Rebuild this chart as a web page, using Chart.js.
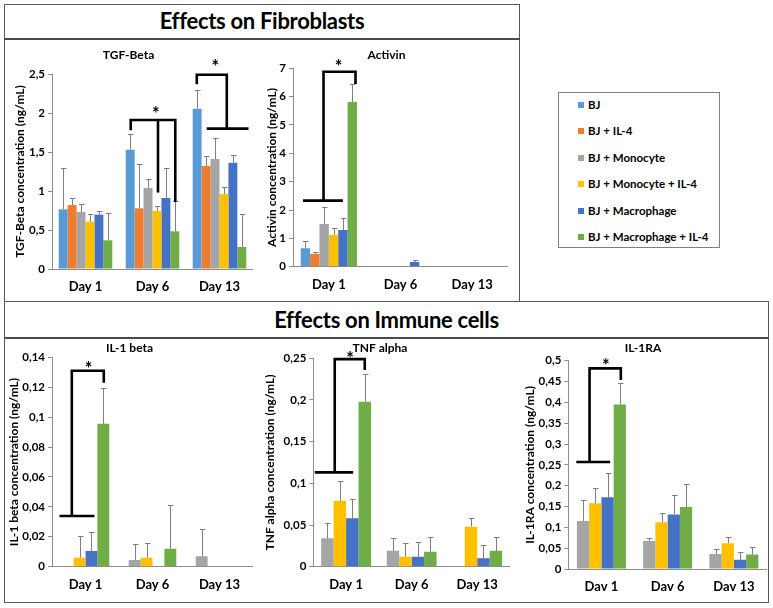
<!DOCTYPE html>
<html><head><meta charset="utf-8">
<script src="https://cdn.jsdelivr.net/npm/chart.js@4"></script>
<style>
html,body{margin:0;padding:0;background:#fff;}
body{width:773px;height:608px;position:relative;overflow:hidden;font-family:Lato,'Open Sans',sans-serif;}
.box{position:absolute;border:1px solid #595959;box-sizing:border-box;}
.rule{position:absolute;height:2px;background:#4a4a4a;}
.ptitle{position:absolute;text-align:center;font-weight:700;font-size:22px;color:#000;letter-spacing:-0.3px;}
canvas{position:absolute;}
#legend{position:absolute;left:558px;top:92px;width:162px;height:156px;border:1px solid #7f7f7f;box-sizing:border-box;background:#fff;}
.li{position:absolute;left:19px;height:14px;line-height:14px;font-weight:700;font-size:11.5px;white-space:nowrap;color:#000;}
.sw{display:inline-block;width:6px;height:6px;margin-right:4px;vertical-align:1px;}
</style></head><body>
<div class="box" style="left:4px;top:4px;width:516px;height:298px;"></div>
<div class="rule" style="left:4px;top:38px;width:516px;"></div>
<div class="box" style="left:4px;top:301px;width:765px;height:302px;"></div>
<div class="rule" style="left:4px;top:337px;width:765px;"></div>
<div class="ptitle" style="left:4px;top:4px;width:516px;height:34px;line-height:34px;">Effects on Fibroblasts</div>
<div class="ptitle" style="left:4px;top:302px;width:765px;height:35px;line-height:35px;">Effects on Immune cells</div>
<div id="legend"></div>
<script>
// ---- categories & series ----
const days = ['Day 1', 'Day 6', 'Day 13'];
const daysRA = ['Dav 1', 'Dav 6', 'Dav 13'];
const groupNames = ['BJ', 'BJ + IL-4', 'BJ + Monocyte', 'BJ + Monocyte + IL-4', 'BJ + Macrophage', 'BJ + Macrophage + IL-4'];
const groupColors = ['#5B9BD5', '#ED7D31', '#A5A5A5', '#FFC000', '#4472C4', '#70AD47'];

// ---- TGF-Beta (ng/mL): mean and SD per group ----
const tgf_BJ        = [0.765, 1.53, 2.056];  const tgf_BJ_sd        = [0.535, 0.196, 0.244];
const tgf_BJ_IL4    = [0.82, 0.778, 1.32];   const tgf_BJ_IL4_sd    = [0.086, 0.572, 0.13];
const tgf_Mono      = [0.73, 1.04, 1.41];    const tgf_Mono_sd      = [0.10, 0.114, 0.265];
const tgf_Mono_IL4  = [0.607, 0.744, 0.96];  const tgf_Mono_IL4_sd  = [0.093, 0.064, 0.087];
const tgf_Mac       = [0.697, 0.91, 1.363];  const tgf_Mac_sd       = [0.047, 0.38, 0.094];
const tgf_Mac_IL4   = [0.368, 0.483, 0.282]; const tgf_Mac_IL4_sd   = [0.346, 0.385, 0.427];

// ---- Activin (ng/mL) ----
const act_BJ        = [0.647, 0, 0];  const act_BJ_sd        = [0.247, 0, 0];
const act_BJ_IL4    = [0.447, 0, 0];  const act_BJ_IL4_sd    = [0.083, 0, 0];
const act_Mono      = [1.506, 0, 0];  const act_Mono_sd      = [0.584, 0, 0];
const act_Mono_IL4  = [1.13, 0.005, 0]; const act_Mono_IL4_sd = [0.246, 0.02, 0];
const act_Mac       = [1.294, 0.165, 0]; const act_Mac_sd    = [0.412, 0.055, 0];
const act_Mac_IL4   = [5.81, 0, 0];   const act_Mac_IL4_sd   = [0.64, 0, 0];

// ---- IL-1 beta (ng/mL) ----
const il1b_Mono     = [0, 0.0045, 0.007];  const il1b_Mono_sd     = [0, 0.011, 0.0185];
const il1b_Mono_IL4 = [0.006, 0.006, 0];   const il1b_Mono_IL4_sd = [0.0145, 0.010, 0];
const il1b_Mac      = [0.0105, 0, 0];      const il1b_Mac_sd      = [0.0125, 0, 0];
const il1b_Mac_IL4  = [0.0955, 0.012, 0];  const il1b_Mac_IL4_sd  = [0.024, 0.0295, 0];

// ---- TNF alpha (ng/mL) ----
const tnf_Mono      = [0.034, 0.019, 0];     const tnf_Mono_sd      = [0.018, 0.016, 0];
const tnf_Mono_IL4  = [0.079, 0.012, 0.048]; const tnf_Mono_IL4_sd  = [0.024, 0.017, 0.010];
const tnf_Mac       = [0.058, 0.012, 0.010]; const tnf_Mac_sd       = [0.023, 0.018, 0.016];
const tnf_Mac_IL4   = [0.198, 0.018, 0.019]; const tnf_Mac_IL4_sd   = [0.033, 0.018, 0.017];

// ---- IL-1RA (ng/mL) ----
const ra_Mono       = [0.115, 0.067, 0.036]; const ra_Mono_sd       = [0.05, 0.008, 0.011];
const ra_Mono_IL4   = [0.158, 0.112, 0.062]; const ra_Mono_IL4_sd   = [0.037, 0.023, 0.015];
const ra_Mac        = [0.172, 0.131, 0.022]; const ra_Mac_sd        = [0.059, 0.047, 0.020];
const ra_Mac_IL4    = [0.395, 0.149, 0.035]; const ra_Mac_IL4_sd    = [0.052, 0.054, 0.018];

// ---- significance brackets (category index, value) and stars ----
const tgfBrackets = [
  [[0.675, 1.78], [0.675, 1.91], [1.34, 1.91], [1.34, 0.86]],
  [[1.082, 1.91], [1.082, 0.98]],
  [[1.661, 2.37], [1.661, 2.49], [2.109, 2.49], [2.109, 1.80]],
  [[1.81, 1.80], [2.433, 1.80]]
];
const tgfStars = [[1.05, 2.04], [1.936, 2.64]];
const actBrackets = [
  [[-0.36, 2.33], [0.196, 2.33]],
  [[-0.074, 2.33], [-0.074, 6.88], [0.372, 6.88], [0.372, 6.45]]
];
const actStars = [[0.135, 7.2]];
const il1bBrackets = [
  [[-0.388, 0.0339], [0.134, 0.0339]],
  [[-0.204, 0.0339], [-0.204, 0.131], [0.273, 0.131], [0.273, 0.123]]
];
const il1bStars = [[0.045, 0.1348]];
const tnfBrackets = [
  [[-0.477, 0.1132], [0.108, 0.1132]],
  [[-0.173, 0.1132], [-0.173, 0.249], [0.285, 0.249], [0.285, 0.236]]
];
const tnfStars = [[0.06, 0.254]];
const raBrackets = [
  [[-0.379, 0.257], [0.132, 0.257]],
  [[-0.179, 0.257], [-0.179, 0.4816], [0.293, 0.4816], [0.293, 0.4536]]
];
const raStars = [[0.068, 0.4976]];

// ---- legend (HTML, from the series names) ----
const legendEl = document.getElementById('legend');
groupNames.forEach((n, i) => {
  const d = document.createElement('div');
  d.className = 'li';
  d.style.top = (5 + i * 26.4) + 'px';
  d.innerHTML = '<span class="sw" style="background:' + groupColors[i] + '"></span>';
  d.appendChild(document.createTextNode(n));
  legendEl.appendChild(d);
});

Chart.defaults.font.family = "Lato, 'Open Sans', sans-serif";
Chart.defaults.color = '#000';

const errorBars = {
  id: 'errorBars',
  afterDatasetsDraw(chart) {
    const ctx = chart.ctx, ys = chart.scales.y;
    ctx.save();
    ctx.strokeStyle = '#7f7f7f';
    ctx.lineWidth = 1;
    chart.data.datasets.forEach((ds, i) => {
      const meta = chart.getDatasetMeta(i);
      meta.data.forEach((bar, j) => {
        const sd = ds.sd[j];
        if (!sd) return;
        const x = Math.round(bar.x) + 0.5;
        const yt = Math.round(ys.getPixelForValue(ds.data[j] + sd)) + 0.5;
        ctx.beginPath();
        ctx.moveTo(x, bar.y);
        ctx.lineTo(x, yt);
        ctx.moveTo(x - 2.5, yt);
        ctx.lineTo(x + 3, yt);
        ctx.stroke();
      });
    });
    ctx.restore();
  }
};

function sigPlugin(lines, stars) {
  return {
    id: 'sig',
    afterDatasetsDraw(chart) {
      const ctx = chart.ctx, xs = chart.scales.x, ys = chart.scales.y;
      ctx.save();
      ctx.strokeStyle = '#000';
      ctx.lineWidth = 2.6;
      ctx.lineJoin = 'miter';
      lines.forEach(pl => {
        ctx.beginPath();
        pl.forEach((p, k) => {
          const px = xs.getPixelForValue(p[0]), py = ys.getPixelForValue(p[1]);
          if (k) ctx.lineTo(px, py); else ctx.moveTo(px, py);
        });
        ctx.stroke();
      });
      ctx.fillStyle = '#000';
      ctx.font = "bold 18px Lato, 'Open Sans', sans-serif";
      ctx.textAlign = 'center';
      ctx.textBaseline = 'alphabetic';
      stars.forEach(s => ctx.fillText('*', xs.getPixelForValue(s[0]), ys.getPixelForValue(s[1]) + 10));
      ctx.restore();
    }
  };
}

const fmt = v => String(+(+v).toFixed(4)).replace('.', ',');

function barChart(cfg) {
  const c = document.createElement('canvas');
  c.width = cfg.W; c.height = cfg.H;
  c.style.left = cfg.L + 'px'; c.style.top = cfg.T + 'px';
  c.style.width = cfg.W + 'px'; c.style.height = cfg.H + 'px';
  document.body.appendChild(c);
  return new Chart(c, {
    type: 'bar',
    data: {
      labels: cfg.labels,
      datasets: cfg.series.map(s => ({
        label: groupNames[s[0]], data: s[1], sd: s[2],
        backgroundColor: groupColors[s[0]], borderWidth: 0,
        barPercentage: 1, categoryPercentage: cfg.cat
      }))
    },
    options: {
      responsive: false, animation: false, devicePixelRatio: 1,
      layout: { padding: 0 },
      plugins: {
        legend: { display: false }, tooltip: { enabled: false },
        title: { display: true, text: cfg.title, color: '#000',
                 font: { size: 12, weight: 'bold' }, padding: cfg.tpad }
      },
      scales: {
        x: {
          grid: { display: false, drawTicks: false, tickLength: 0 },
          border: { display: true, color: '#8c8c8c', width: 1 },
          ticks: { color: '#000', font: { size: 13, weight: 'bold' }, padding: 10, maxRotation: 0, autoSkip: false },
          afterFit(s) { s.height = cfg.xH; }
        },
        y: {
          min: 0, max: cfg.max,
          ticks: { stepSize: cfg.step, color: '#000', font: { size: 11.5, weight: 'bold' }, padding: 3, callback: fmt },
          grid: { drawOnChartArea: false, drawTicks: true, tickLength: 4, color: '#8c8c8c' },
          border: { display: true, color: '#8c8c8c', width: 1 },
          title: { display: true, text: cfg.yTitle, color: '#000', font: { size: 12, weight: 'bold' },
                   padding: { top: cfg.ytp, bottom: 0 } },
          afterFit(s) { s.width = cfg.yW; }
        }
      }
    },
    plugins: [errorBars, sigPlugin(cfg.lines, cfg.stars)]
  });
}

barChart({ L: 4, T: 44, W: 249, H: 254, yW: 48, xH: 29, tpad: { top: 3.8, bottom: 11.8 }, ytp: 8.8,
  title: 'TGF-Beta', yTitle: 'TGF-Beta concentration (ng/mL)', labels: days, max: 2.5, step: 0.5, cat: 0.80,
  series: [[0, tgf_BJ, tgf_BJ_sd], [1, tgf_BJ_IL4, tgf_BJ_IL4_sd], [2, tgf_Mono, tgf_Mono_sd],
           [3, tgf_Mono_IL4, tgf_Mono_IL4_sd], [4, tgf_Mac, tgf_Mac_sd], [5, tgf_Mac_IL4, tgf_Mac_IL4_sd]],
  lines: tgfBrackets, stars: tgfStars });

barChart({ L: 265, T: 44, W: 243, H: 252, yW: 28, xH: 29.3, tpad: { top: 3.8, bottom: 6.1 }, ytp: 0,
  title: 'Activin', yTitle: 'Activin concentration (ng/mL)', labels: days, max: 7, step: 1, cat: 0.785,
  series: [[0, act_BJ, act_BJ_sd], [1, act_BJ_IL4, act_BJ_IL4_sd], [2, act_Mono, act_Mono_sd],
           [3, act_Mono_IL4, act_Mono_IL4_sd], [4, act_Mac, act_Mac_sd], [5, act_Mac_IL4, act_Mac_IL4_sd]],
  lines: actBrackets, stars: actStars });

barChart({ L: 6, T: 340, W: 247, H: 256, yW: 46, xH: 29.3, tpad: { top: 1.1, bottom: 1.8 }, ytp: 0.8,
  title: 'IL-1 beta', yTitle: 'IL-1 beta concentration (ng/mL)', labels: days, max: 0.14, step: 0.02, cat: 0.71,
  series: [[2, il1b_Mono, il1b_Mono_sd], [3, il1b_Mono_IL4, il1b_Mono_IL4_sd],
           [4, il1b_Mac, il1b_Mac_sd], [5, il1b_Mac_IL4, il1b_Mac_IL4_sd]],
  lines: il1bBrackets, stars: il1bStars });

barChart({ L: 250, T: 340, W: 260, H: 256, yW: 63.3, xH: 29.3, tpad: { top: 1.1, bottom: 2.8 }, ytp: 12.8,
  title: 'TNF alpha', yTitle: 'TNF alpha concentration (ng/mL)', labels: days, max: 0.25, step: 0.05, cat: 0.76,
  series: [[2, tnf_Mono, tnf_Mono_sd], [3, tnf_Mono_IL4, tnf_Mono_IL4_sd],
           [4, tnf_Mac, tnf_Mac_sd], [5, tnf_Mac_IL4, tnf_Mac_IL4_sd]],
  lines: tnfBrackets, stars: tnfStars });

barChart({ L: 519, T: 340, W: 248, H: 258, yW: 49.3, xH: 29, tpad: { top: 1.1, bottom: 5.2 }, ytp: 3.8,
  title: 'IL-1RA', yTitle: 'IL-1RA concentration (ng/mL)', labels: daysRA, max: 0.5, step: 0.05, cat: 0.74,
  series: [[2, ra_Mono, ra_Mono_sd], [3, ra_Mono_IL4, ra_Mono_IL4_sd],
           [4, ra_Mac, ra_Mac_sd], [5, ra_Mac_IL4, ra_Mac_IL4_sd]],
  lines: raBrackets, stars: raStars });
</script>
</body></html>
